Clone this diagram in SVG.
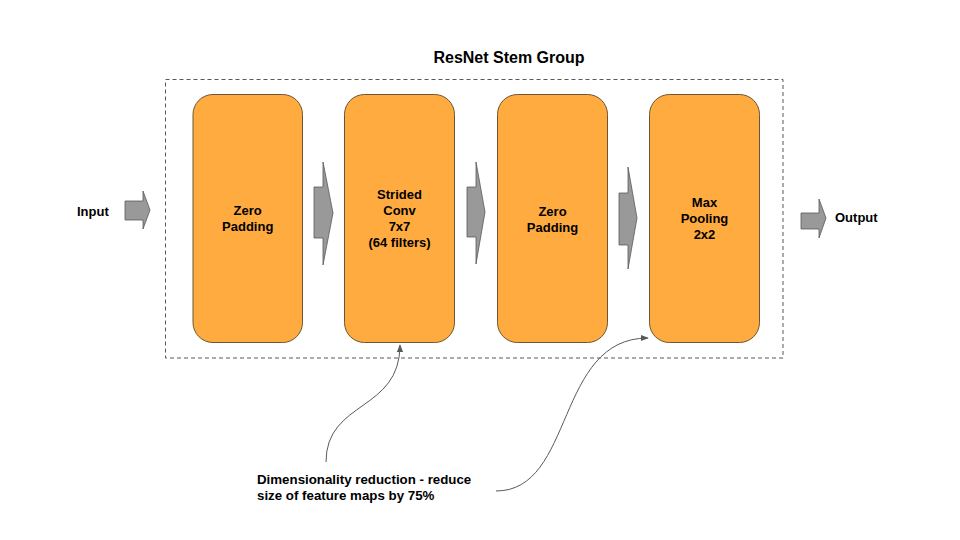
<svg xmlns="http://www.w3.org/2000/svg" width="960" height="540" viewBox="0 0 960 540">
  <style>
    .t { font-family: "Liberation Sans", Arial, sans-serif; font-weight: bold; fill: #000; }
    .box { fill: #FFAB40; stroke: #6b5631; stroke-width: 1; }
    .blk { fill: #999999; stroke: #595959; stroke-width: 0.8; }
    .cur { fill: none; stroke: #595959; stroke-width: 1; }
  </style>
  <defs>
    <marker id="ah" viewBox="0 0 10 10" refX="9" refY="5" markerWidth="8" markerHeight="8" markerUnits="userSpaceOnUse" orient="auto">
      <path d="M0,1 L10,5 L0,9 Z" fill="#595959"/>
    </marker>
  </defs>
  <rect width="960" height="540" fill="#ffffff"/>

  <g id="group">
    <rect x="165.5" y="79.5" width="617.5" height="278.5" fill="none" stroke="#595959" stroke-width="1" stroke-dasharray="4,3"/>
    <text class="t" x="509" y="63" font-size="16" text-anchor="middle">ResNet Stem Group</text>
  </g>

  <g id="input">
    <text class="t" x="77" y="216" font-size="13">Input</text>
  </g>
  <g id="output">
    <text class="t" x="835" y="222" font-size="13">Output</text>
  </g>

  <g id="zero-padding-1">
    <rect class="box" x="193" y="94.5" width="109.5" height="248" rx="20"/>
    <text class="t" font-size="13" text-anchor="middle"><tspan x="247.7" y="215">Zero</tspan><tspan x="247.7" y="231">Padding</tspan></text>
  </g>
  <g id="strided-conv">
    <rect class="box" x="344.5" y="94.5" width="110" height="248" rx="20"/>
    <text class="t" font-size="13" text-anchor="middle"><tspan x="399.5" y="199">Strided</tspan><tspan x="399.5" y="215">Conv</tspan><tspan x="399.5" y="231">7x7</tspan><tspan x="399.5" y="247">(64 filters)</tspan></text>
  </g>
  <g id="zero-padding-2">
    <rect class="box" x="497.5" y="94.5" width="110" height="248" rx="20"/>
    <text class="t" font-size="13" text-anchor="middle"><tspan x="552.5" y="216">Zero</tspan><tspan x="552.5" y="232">Padding</tspan></text>
  </g>
  <g id="max-pooling">
    <rect class="box" x="649.5" y="94.5" width="110" height="248" rx="20"/>
    <text class="t" font-size="13" text-anchor="middle"><tspan x="704.5" y="207">Max</tspan><tspan x="704.5" y="223">Pooling</tspan><tspan x="704.5" y="239">2x2</tspan></text>
  </g>

  <g id="annotation">
    <text class="t" font-size="13.3"><tspan x="257" y="484">Dimensionality reduction - reduce</tspan><tspan x="257" y="500">size of feature maps by 75%</tspan></text>
  </g>

  <g id="connectors">
    <polygon class="blk" points="125,201 143,201 143,191 150,210 143,229 143,220 125,220"/>
    <polygon class="blk" points="314,187 323,187 323,162 333,213 323,265 323,238 314,238"/>
    <polygon class="blk" points="467,187 476,187 476,162 485,212 476,264 476,237 467,237"/>
    <polygon class="blk" points="619,193 628,193 628,167 637,218 628,269 628,245 619,245"/>
    <polygon class="blk" points="801,213 819,213 819,199 826,218 819,238 819,229 801,229"/>
    <path class="cur" d="M326,462 C326,400 400,412 400,345" marker-end="url(#ah)"/>
    <path class="cur" d="M496,491 C575,491 555,338 648,338" marker-end="url(#ah)"/>
  </g>
</svg>
